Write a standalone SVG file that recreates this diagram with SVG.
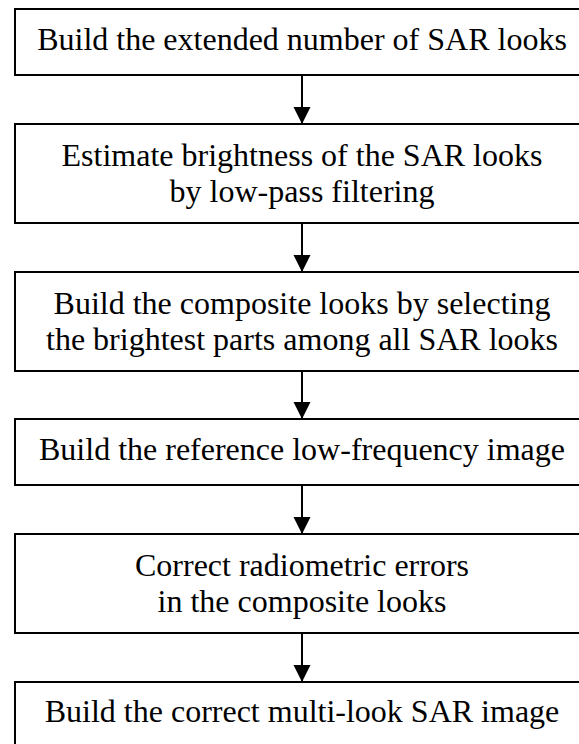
<svg xmlns="http://www.w3.org/2000/svg" width="579" height="744" viewBox="0 0 579 744">
<style>
.box{fill:#fff;stroke:#000;stroke-width:2}
.t{font-size:32px;fill:#000;text-anchor:middle}
.c{stroke:#000;stroke-width:2;fill:none}
</style>
<defs>
<marker id="ah" markerUnits="userSpaceOnUse" markerWidth="18" markerHeight="18" viewBox="0 0 18 18" refX="17" refY="9" orient="auto">
<path d="M0,0.5 L17,9 L0,17.5 Z" fill="#000"/>
</marker>
</defs>
<rect width="579" height="744" fill="#fff"/>
<g id="connectors">
<line class="c" x1="302" y1="75" x2="302" y2="124" marker-end="url(#ah)"/>
<line class="c" x1="302" y1="223" x2="302" y2="272" marker-end="url(#ah)"/>
<line class="c" x1="302" y1="371" x2="302" y2="419" marker-end="url(#ah)"/>
<line class="c" x1="302" y1="485" x2="302" y2="534" marker-end="url(#ah)"/>
<line class="c" x1="302" y1="633" x2="302" y2="682" marker-end="url(#ah)"/>
</g>
<g font-family="'Liberation Serif', 'DejaVu Serif', serif">
<g id="n1">
<rect class="box" x="15" y="9" width="574" height="66"/>
<text class="t" x="302" y="50">Build the extended number of SAR looks</text>
</g>
<g id="n2">
<rect class="box" x="15" y="124" width="574" height="99"/>
<text class="t" x="302" y="166">Estimate brightness of the SAR looks</text>
<text class="t" x="302" y="202">by low-pass filtering</text>
</g>
<g id="n3">
<rect class="box" x="15" y="272" width="574" height="99"/>
<text class="t" x="302" y="314">Build the composite looks by selecting</text>
<text class="t" x="302" y="350">the brightest parts among all SAR looks</text>
</g>
<g id="n4">
<rect class="box" x="15" y="419" width="574" height="66"/>
<text class="t" x="302" y="460">Build the reference low-frequency image</text>
</g>
<g id="n5">
<rect class="box" x="15" y="534" width="574" height="99"/>
<text class="t" x="302" y="576">Correct radiometric errors</text>
<text class="t" x="302" y="612">in the composite looks</text>
</g>
<g id="n6">
<rect class="box" x="15" y="682" width="574" height="80"/>
<text class="t" x="302" y="722">Build the correct multi-look SAR image</text>
</g>
</g>
</svg>
